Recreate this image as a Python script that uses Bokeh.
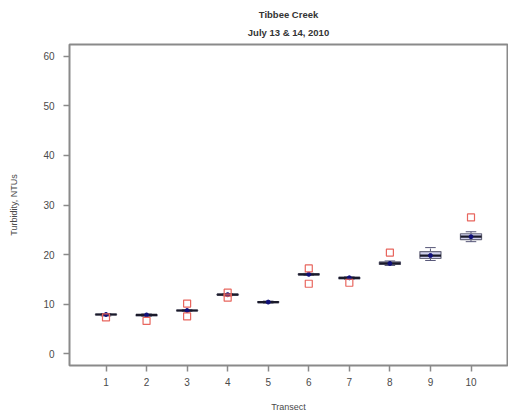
from bokeh.plotting import figure
from bokeh.models import Range1d, FixedTicker, Title, ColumnDataSource
from bokeh.embed import file_html
from bokeh.resources import INLINE

# Turbidity summary per transect (NTUs)
transect = [1, 2, 3, 4, 5, 6, 7, 8, 9, 10]
whisk_lo = [7.6, 7.5, 8.5, 11.7, 10.2, 15.8, 15.0, 17.8, 18.8, 22.6]
q1 = [7.8, 7.6, 8.6, 11.8, 10.3, 15.9, 15.1, 18.0, 19.2, 23.0]
median = [7.9, 7.8, 8.7, 11.9, 10.4, 16.0, 15.3, 18.2, 19.8, 23.6]
q3 = [8.0, 7.9, 8.8, 12.0, 10.5, 16.1, 15.4, 18.5, 20.6, 24.2]
whisk_hi = [8.1, 8.0, 8.9, 12.1, 10.6, 16.2, 15.5, 18.7, 21.4, 24.6]

# Individual readings outside the boxes
out_x = [1, 2, 3, 3, 4, 4, 6, 6, 7, 8, 10]
out_y = [7.3, 6.6, 10.1, 7.5, 12.3, 11.3, 17.2, 14.1, 14.3, 20.4, 27.5]

y_ticks = [0, 10, 20, 30, 40, 50, 60]
title_lines = ["Tibbee Creek", "July 13 & 14, 2010"]

FONT = "Liberation Sans"
TXT = "#4a4a4a"
LINE = "#8a8a8a"

p = figure(width=508, height=417, output_backend="svg", toolbar_location=None,
           x_range=Range1d(0.1, 10.9), y_range=Range1d(-2.4, 62.4),
           min_border_left=69, min_border_right=1, min_border_top=44,
           min_border_bottom=52)
p.title = None
p.background_fill_color = "white"
p.border_fill_color = "white"
p.xgrid.visible = False
p.ygrid.visible = False
p.outline_line_color = LINE
p.outline_line_width = 2

for ax in (p.xaxis[0], p.yaxis[0]):
    ax.axis_line_color = LINE
    ax.axis_line_width = 1
    ax.major_tick_line_color = LINE
    ax.major_tick_line_width = 1.5
    ax.major_tick_out = 6
    ax.major_tick_in = 0
    ax.minor_tick_line_color = None
    ax.major_label_text_font = FONT
    ax.major_label_text_font_size = "10px"
    ax.major_label_text_color = TXT
    ax.axis_label_text_font = FONT
    ax.axis_label_text_font_size = "9px"
    ax.axis_label_text_font_style = "normal"
    ax.axis_label_text_color = TXT

p.xaxis.ticker = FixedTicker(ticks=transect)
p.xaxis.major_label_standoff = 6
p.xaxis.axis_label = "Transect"
p.xaxis.axis_label_standoff = 13

p.yaxis.ticker = FixedTicker(ticks=y_ticks)
p.yaxis.major_label_standoff = 9
p.yaxis.axis_label = "Turbidity, NTUs"
p.yaxis.axis_label_standoff = 21

src = ColumnDataSource(dict(
    x=transect, lo=whisk_lo, q1=q1, med=median, q3=q3, hi=whisk_hi,
    xl=[t - 0.13 for t in transect], xr=[t + 0.13 for t in transect],
    ml=[t - 0.26 for t in transect], mr=[t + 0.26 for t in transect]))

# whiskers and staples
p.segment(x0="x", y0="lo", x1="x", y1="q1", source=src, line_color="#555577",
          line_width=1, line_dash="3 2")
p.segment(x0="x", y0="q3", x1="x", y1="hi", source=src, line_color="#555577",
          line_width=1, line_dash="3 2")
p.segment(x0="xl", y0="lo", x1="xr", y1="lo", source=src, line_color="#555577", line_width=1)
p.segment(x0="xl", y0="hi", x1="xr", y1="hi", source=src, line_color="#555577", line_width=1)

# boxes
p.vbar(x="x", width=0.52, bottom="q1", top="q3", source=src,
       fill_color="#cfd0ec", line_color="#6a6a7e", line_width=1.2)
# medians with a centre dot
p.segment(x0="ml", y0="med", x1="mr", y1="med", source=src, line_color="#1a1a2a",
          line_width=2.2)
p.scatter(x="x", y="med", source=src, size=4, marker="circle",
          fill_color="#10107a", line_color="#10107a")

# individual readings
p.scatter(out_x, out_y, marker="square", size=7, fill_color=None,
          line_color="#e8665e", line_width=1.2)

# two-line centred heading: the first title added sits nearest the frame
for line_text, gap in zip(reversed(title_lines), [10, 0]):
    p.add_layout(Title(text=line_text, align="center", text_font=FONT,
                       text_font_size="9.5px", text_font_style="bold",
                       text_color="#333333", text_line_height=1.0,
                       vertical_align="top", standoff=gap), "above")

open("out.html", "w").write(file_html(p, INLINE))
